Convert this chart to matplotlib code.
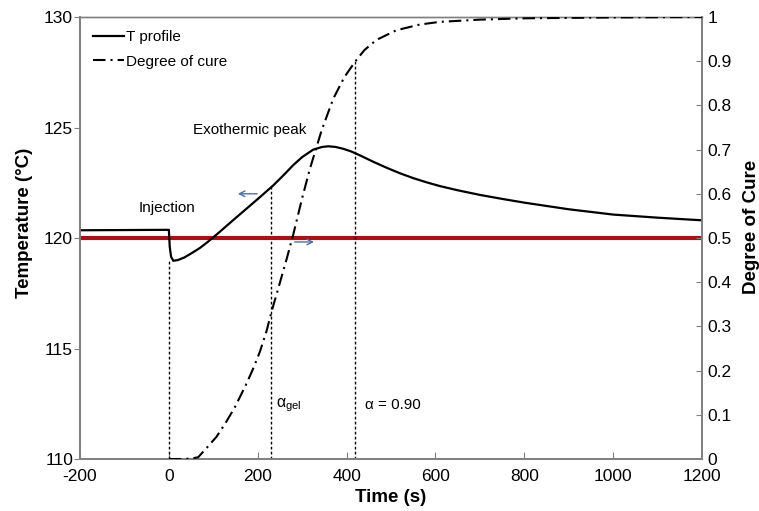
import matplotlib
matplotlib.use("Agg")
import matplotlib.pyplot as plt

plt.rcParams['font.family'] = ['Liberation Sans', 'DejaVu Sans']

# Temperature profile (°C) vs time (s)
t_temp = [-200, -100, -1, 0, 2, 5, 10, 20, 35, 51, 70, 88, 110, 130, 150, 175, 205,
          235, 260, 280, 300, 325, 345, 359, 375, 392, 410, 430, 460, 490, 520, 550,
          580, 610, 650, 700, 750, 800, 900, 1000, 1100, 1200]
temp = [120.35, 120.36, 120.37, 120.37, 119.6, 119.15, 118.97, 119.0, 119.12, 119.31,
        119.55, 119.83, 120.2, 120.55, 120.9, 121.33, 121.85, 122.38, 122.88, 123.3,
        123.66, 124.0, 124.12, 124.15, 124.12, 124.04, 123.92, 123.74, 123.45, 123.18,
        122.93, 122.71, 122.52, 122.35, 122.16, 121.95, 121.77, 121.6, 121.3, 121.06,
        120.92, 120.8]

# Degree of cure vs time (s)
t_cure = [0, 30, 50, 66, 85, 107, 128, 149, 175, 190, 205, 220, 231, 246, 265, 280,
          300, 317, 344, 370, 395, 420, 440, 467, 512, 565, 610, 700, 800, 1000, 1200]
cure = [0.0, 0.0, 0.001, 0.004, 0.025, 0.05, 0.082, 0.118, 0.171, 0.205, 0.243, 0.29,
        0.333, 0.385, 0.452, 0.508, 0.59, 0.655, 0.744, 0.815, 0.864, 0.90, 0.925,
        0.948, 0.970, 0.983, 0.989, 0.994, 0.997, 0.999, 1.0]

# Marker times: injection, gel point, alpha = 0.90
t_inject, T_inject_min = 0, 118.97
t_gel, T_gel = 230, 122.3
t_a90, a90 = 420, 0.90
T_set = 120

x_ticks = [-200, 0, 200, 400, 600, 800, 1000, 1200]
y_ticks = [110, 115, 120, 125, 130]
cure_ticks = [0, 0.1, 0.2, 0.3, 0.4, 0.5, 0.6, 0.7, 0.8, 0.9, 1]
cure_labels = ['0', '0.1', '0.2', '0.3', '0.4', '0.5', '0.6', '0.7', '0.8', '0.9', '1']

fig = plt.figure(figsize=(7.59, 5.11), dpi=100)
ax = fig.add_axes([80 / 759, 1 - 459 / 511, 622 / 759, 442 / 511])
ax2 = ax.twinx()

spine_col = '#808080'

ax.set_xlim(-200, 1200)
ax.set_ylim(110, 130)
ax2.set_ylim(0, 1)

ax.axhline(T_set, color='#A31515', lw=3.0, zorder=3)

lt, = ax.plot(t_temp, temp, color='black', lw=1.6, zorder=4, label='T profile')
lc, = ax2.plot(t_cure, cure, color='black', lw=1.5, zorder=4,
               dashes=(6, 2.4, 1, 2.4), label='Degree of cure')

# vertical guide lines
ax.plot([t_inject, t_inject], [110, T_inject_min], color='black', lw=1.0,
        dashes=(2, 1.6), zorder=2)
ax.plot([t_gel, t_gel], [110, T_gel], color='black', lw=1.0, dashes=(2, 1.6), zorder=2)
ax2.plot([t_a90, t_a90], [0, a90], color='black', lw=1.0, dashes=(2, 1.6), zorder=2)

# axis arrows
arrow_col = '#4F6FA0'
ax.annotate('', xy=(149, 122.0), xytext=(205, 122.0),
            arrowprops=dict(arrowstyle='->', color=arrow_col, lw=1.0))
ax.annotate('', xy=(333, 119.82), xytext=(277, 119.82),
            arrowprops=dict(arrowstyle='->', color=arrow_col, lw=1.0))

# annotations
ax.text(-4, 121.36, 'Injection', fontsize=11, ha='center', va='center')
ax.text(182, 124.89, 'Exothermic peak', fontsize=11, ha='center', va='center')
ax.text(241, 112.45, r'$\mathregular{\alpha_{gel}}$', fontsize=11.5, ha='left',
        va='center')
ax.text(441, 112.45, 'α = 0.90', fontsize=11, ha='left', va='center')

# axes styling
for a in (ax, ax2):
    for s in a.spines.values():
        s.set_color(spine_col)
        s.set_linewidth(1.3)
    a.spines['top'].set_linewidth(1.0)

ax.set_xticks(x_ticks)
ax.set_xticklabels([str(v) for v in x_ticks])
ax.set_yticks(y_ticks)
ax.set_yticklabels([str(v) for v in y_ticks])
ax2.set_yticks(cure_ticks)
ax2.set_yticklabels(cure_labels)

ax.tick_params(axis='x', direction='in', length=5, color=spine_col, labelsize=12.5, pad=7.5)
ax.tick_params(axis='y', direction='out', length=4, color=spine_col, labelsize=12.5, pad=1)
ax2.tick_params(axis='y', direction='in', length=4, color=spine_col, labelsize=12.5, pad=4)

ax.set_xlabel('Time (s)', fontsize=13.5, fontweight='bold')
ax.set_ylabel('Temperature (°C)', fontsize=13.5, fontweight='bold')
ax2.set_ylabel('Degree of Cure', fontsize=13.5, fontweight='bold')
ax.xaxis.set_label_coords(0.5, -0.068)
ax.yaxis.set_label_coords(-0.076, 0.534)
ax2.yaxis.set_label_coords(1.066, 0.525)

leg = ax.legend(handles=[lt, lc], loc='upper left', frameon=False, fontsize=11,
                handlelength=2.0, handletextpad=0.15, labelspacing=0.7,
                bbox_to_anchor=(0.0, 1.0), borderaxespad=0.45)

fig.savefig('out.png', dpi=100)
